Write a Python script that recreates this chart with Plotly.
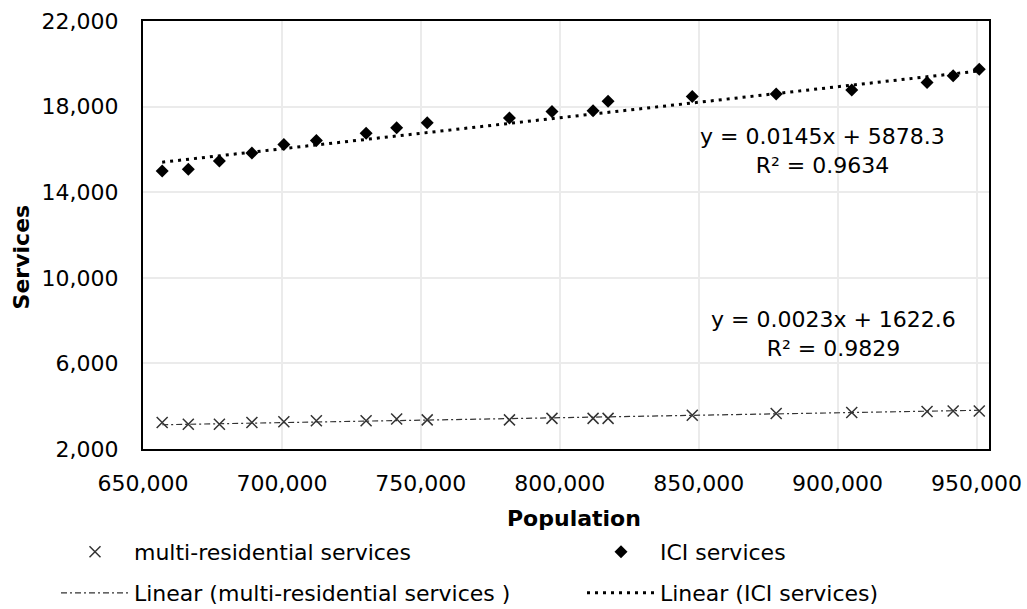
import plotly.graph_objects as go

# Population (x) shared by both service series
population = [656900, 666300, 677500, 689200, 700700, 712400, 730300, 741300, 752300,
              781900, 797200, 812000, 817400, 847700, 877900, 905100, 932200, 941600, 951000]
ici_services = [14990, 15070, 15460, 15830, 16230, 16420, 16760, 17010, 17240,
                17470, 17770, 17810, 18250, 18470, 18590, 18780, 19130, 19440, 19750]
multi_res_services = [3240, 3160, 3160, 3240, 3270, 3320, 3320, 3400, 3360,
                      3360, 3430, 3430, 3430, 3580, 3660, 3710, 3750, 3780, 3780]

# Linear trend coefficients (slope, intercept, R²)
ici_fit = (0.0145, 5878.3, 0.9634)
multi_fit = (0.0023, 1622.6, 0.9829)

x_ticks = [650000, 700000, 750000, 800000, 850000, 900000, 950000]
y_ticks = [2000, 6000, 10000, 14000, 18000, 22000]

FONT = "DejaVu Sans"
W, H = 1027, 609
fit_x = [min(population), max(population)]

fig = go.Figure()

fig.add_trace(go.Scatter(
    x=population, y=multi_res_services, mode="markers",
    name="multi-residential services",
    marker=dict(symbol="x-thin-open", size=11, color="#333333",
                line=dict(width=1.5, color="#333333")),
    legend="legend",
))
fig.add_trace(go.Scatter(
    x=population, y=ici_services, mode="markers",
    name="ICI services",
    marker=dict(symbol="diamond", size=10, color="black"),
    legend="legend2",
))
fig.add_trace(go.Scatter(
    x=fit_x, y=[multi_fit[0] * v + multi_fit[1] for v in fit_x], mode="lines",
    name="Linear (multi-residential services )",
    line=dict(color="#333333", width=1.2, dash="6px,3px,2px,3px"),
    legend="legend3",
))
fig.add_trace(go.Scatter(
    x=fit_x, y=[ici_fit[0] * v + ici_fit[1] for v in fit_x], mode="lines",
    name="Linear (ICI services)",
    line=dict(color="black", width=3, dash="3px,5px"),
    legend="legend4",
))

axis_common = dict(
    showline=True, linecolor="black", linewidth=2, mirror=True,
    showgrid=True, gridcolor="#ebebeb", gridwidth=2,
    ticks="", zeroline=False, tickformat=",",
    tickfont=dict(family=FONT, size=22, color="black"),
)

fig.update_xaxes(range=[650000, 954500], tickvals=x_ticks, ticklabelstandoff=14, **axis_common)
fig.update_yaxes(range=[2000, 22000], tickvals=y_ticks, ticklabelstandoff=18, **axis_common)


def legend_box(x_px, y_px):
    return dict(
        orientation="h", xref="container", yref="container",
        x=x_px / W, y=1 - y_px / H, xanchor="left", yanchor="middle",
        itemwidth=68, font=dict(family=FONT, size=22, color="black"),
        bgcolor="rgba(0,0,0,0)",
    )


fig.update_layout(
    width=W, height=H, showlegend=True,
    margin=dict(l=143, r=38, t=21, b=160, autoexpand=False),
    paper_bgcolor="white", plot_bgcolor="white",
    legend=legend_box(56, 552),
    legend2=legend_box(582, 552),
    legend3=legend_box(56, 593),
    legend4=legend_box(582, 593),
    annotations=[
        dict(text=f"y = {ici_fit[0]}x + {ici_fit[1]}<br>R² = {ici_fit[2]}",
             x=894700, y=15925, xref="x", yref="y", showarrow=False,
             align="center", xanchor="center", yanchor="middle",
             font=dict(family=FONT, size=22, color="black")),
        dict(text=f"y = {multi_fit[0]}x + {multi_fit[1]}<br>R² = {multi_fit[2]}",
             x=898700, y=7397, xref="x", yref="y", showarrow=False,
             align="center", xanchor="center", yanchor="middle",
             font=dict(family=FONT, size=22, color="black")),
        dict(text="<b>Population</b>", x=(574 - 143) / 846, y=(449 - 518) / 428,
             xref="paper", yref="paper", showarrow=False,
             xanchor="center", yanchor="middle",
             font=dict(family=FONT, size=22, color="black")),
        dict(text="<b>Services</b>", x=(21.7 - 143) / 846, y=(449 - 256.7) / 428,
             xref="paper", yref="paper", showarrow=False, textangle=-90,
             xanchor="center", yanchor="middle",
             font=dict(family=FONT, size=22, color="black")),
    ],
)

fig.write_html("out.html")
